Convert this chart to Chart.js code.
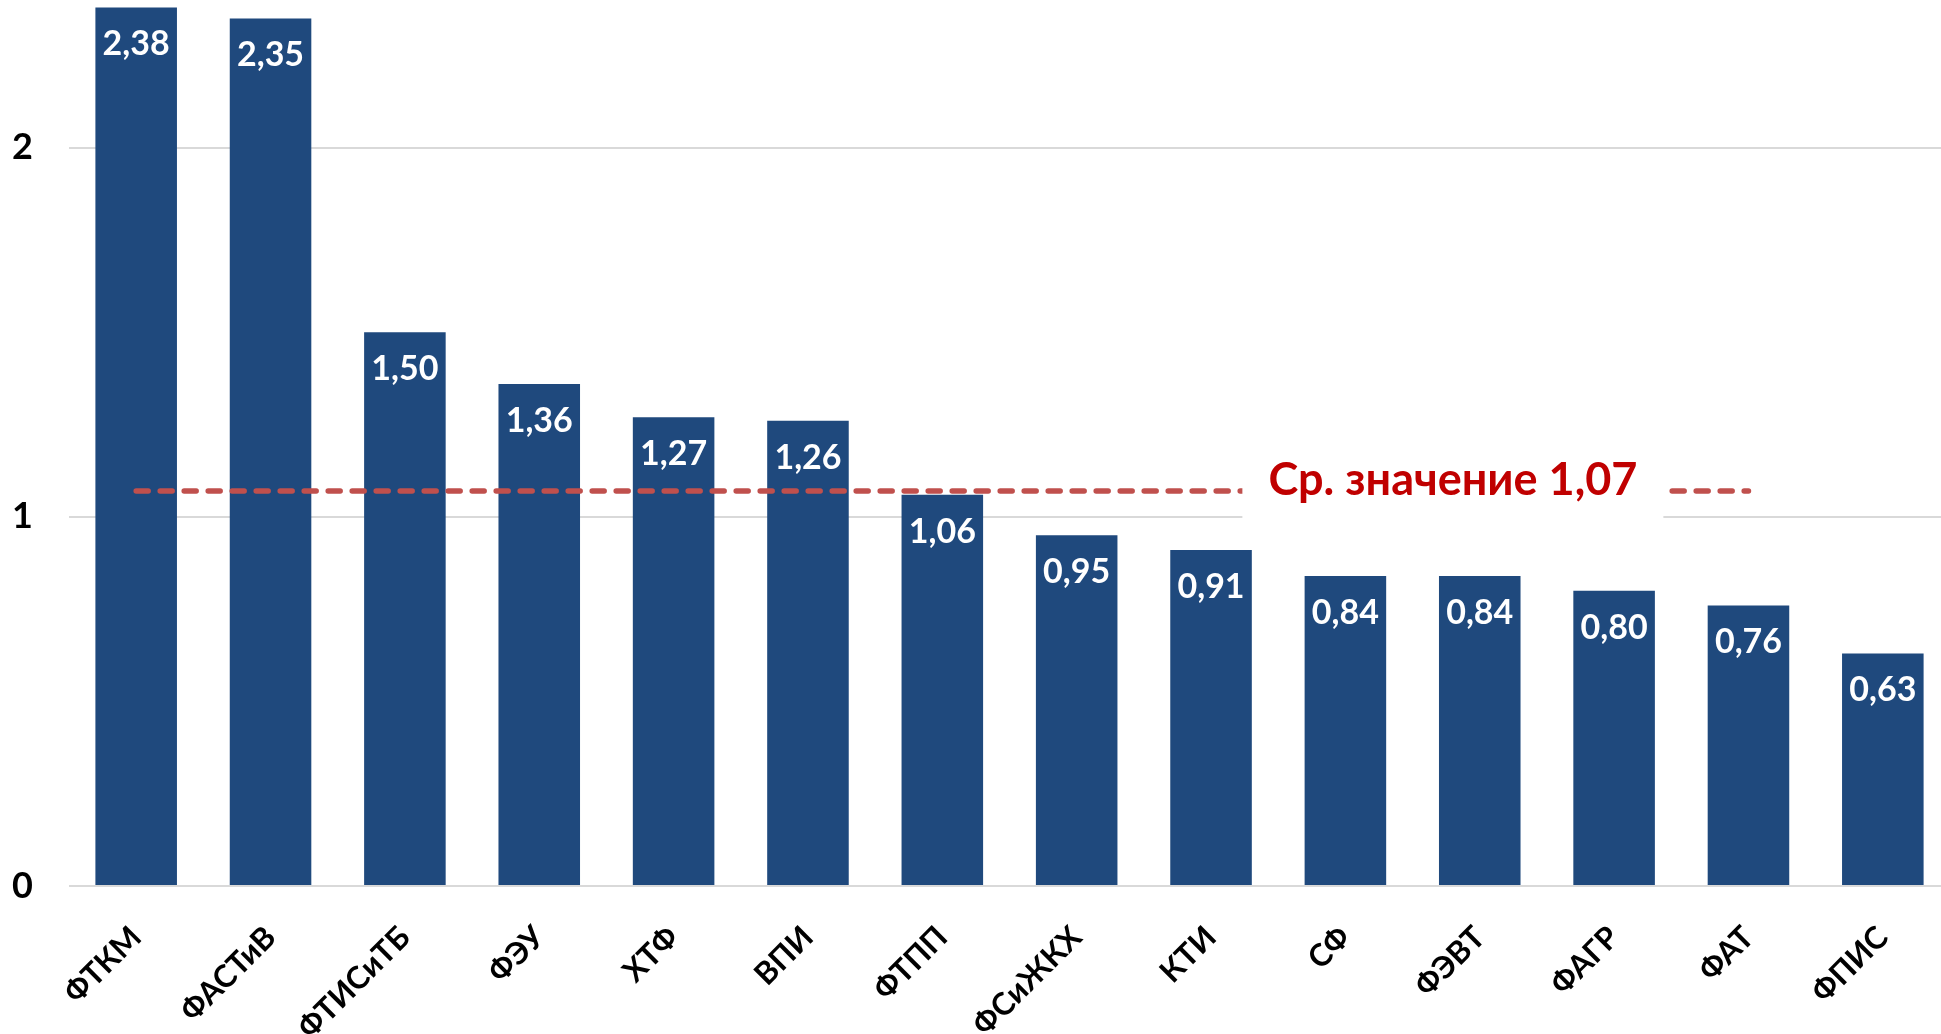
<!DOCTYPE html>
<html lang="ru">
<head>
<meta charset="utf-8">
<title>Коэффициенты по факультетам</title>
<script src="https://cdn.jsdelivr.net/npm/chart.js@4/dist/chart.umd.min.js"></script>
<style>
  html, body { margin: 0; padding: 0; background: #ffffff; overflow: hidden; }
  #wrap { position: relative; width: 1950px; height: 1034px; }
</style>
</head>
<body>
<div id="wrap"><canvas id="chart"></canvas></div>
<script>
// Faculties, sorted by coefficient
const faculties = ['ФТКМ', 'ФАСТиВ', 'ФТИСиТБ', 'ФЭУ', 'ХТФ', 'ВПИ', 'ФТПП', 'ФСиЖКХ', 'КТИ', 'СФ', 'ФЭВТ', 'ФАГР', 'ФАТ', 'ФПИС'];
const coefficients = [2.38, 2.35, 1.50, 1.36, 1.27, 1.26, 1.06, 0.95, 0.91, 0.84, 0.84, 0.80, 0.76, 0.63];
// Average across faculties; the line runs from the first to the 13th category
const averageValue = 1.07;
const averageSpan = 13;
const averageText = 'Ср. значение 1,07';
const yTickValues = [0, 1, 2];

const FONT = 'Lato, "Open Sans", sans-serif';
const BAR_COLOR = '#1F497D';
const AVG_LINE_COLOR = '#C0504D';
const AVG_TEXT_COLOR = '#C00000';

const averageLine = faculties.map((_, i) => (i < averageSpan ? averageValue : null));

const fmt = v => v.toFixed(2).replace('.', ',');

// White value labels inside the top of each bar
const barValueLabels = {
  id: 'barValueLabels',
  afterDatasetsDraw(chart) {
    const ctx = chart.ctx;
    const meta = chart.getDatasetMeta(1);
    ctx.save();
    ctx.font = 'bold 34px ' + FONT;
    ctx.fillStyle = '#ffffff';
    ctx.textAlign = 'center';
    ctx.textBaseline = 'alphabetic';
    meta.data.forEach((bar, i) => {
      ctx.fillText(fmt(coefficients[i]), bar.x, bar.y + 48);
    });
    ctx.restore();
  }
};

// Caption of the average line on a white plate
const averageCaption = {
  id: 'averageCaption',
  afterDatasetsDraw(chart) {
    const ctx = chart.ctx;
    const x = chart.scales.x;
    const y = chart.scales.y;
    const step = x.getPixelForValue(1) - x.getPixelForValue(0);
    const cx = x.getPixelForValue(0) + step * 9.8;
    const cy = y.getPixelForValue(averageValue);
    ctx.save();
    ctx.font = 'bold 45px ' + FONT;
    const w = ctx.measureText(averageText).width;
    ctx.fillStyle = '#ffffff';
    ctx.fillRect(cx - w / 2 - 26, cy - 40, w + 52, 72);
    ctx.fillStyle = AVG_TEXT_COLOR;
    ctx.textAlign = 'center';
    ctx.textBaseline = 'alphabetic';
    ctx.fillText(averageText, cx, cy + 4);
    ctx.restore();
  }
};

new Chart(document.getElementById('chart'), {
  data: {
    labels: faculties,
    datasets: [
      {
        type: 'line',
        label: 'Среднее',
        data: averageLine,
        borderColor: AVG_LINE_COLOR,
        borderWidth: 5.5,
        borderDash: [12, 12],
        borderCapStyle: 'round',
        pointRadius: 0,
        fill: false,
        spanGaps: false,
        order: 0
      },
      {
        type: 'bar',
        label: 'Коэффициент',
        data: coefficients,
        backgroundColor: BAR_COLOR,
        borderWidth: 0,
        categoryPercentage: 1,
        barPercentage: 0.607,
        order: 1
      }
    ]
  },
  options: {
    responsive: true,
    maintainAspectRatio: false,
    animation: false,
    layout: { padding: 0 },
    plugins: {
      legend: { display: false },
      tooltip: { enabled: false }
    },
    scales: {
      x: {
        grid: { display: false },
        border: { display: false },
        ticks: {
          color: '#000000',
          font: { family: FONT, size: 31, weight: 'bold' },
          minRotation: 45,
          maxRotation: 45,
          padding: 25,
          autoSkip: false
        },
        afterFit(scale) { scale.height = 148; }
      },
      y: {
        min: 0,
        max: 2.4,
        afterBuildTicks(scale) { scale.ticks = yTickValues.map(v => ({ value: v })); },
        grid: { color: '#D9D9D9', lineWidth: 2, drawTicks: false },
        border: { display: false },
        ticks: {
          color: '#000000',
          font: { family: FONT, size: 36, weight: 'bold' },
          padding: 36
        },
        afterFit(scale) {
          scale.width = 69;
          scale.paddingTop = 0;
          scale.paddingBottom = 0;
        }
      }
    }
  },
  plugins: [barValueLabels, averageCaption]
});
</script>
</body>
</html>
